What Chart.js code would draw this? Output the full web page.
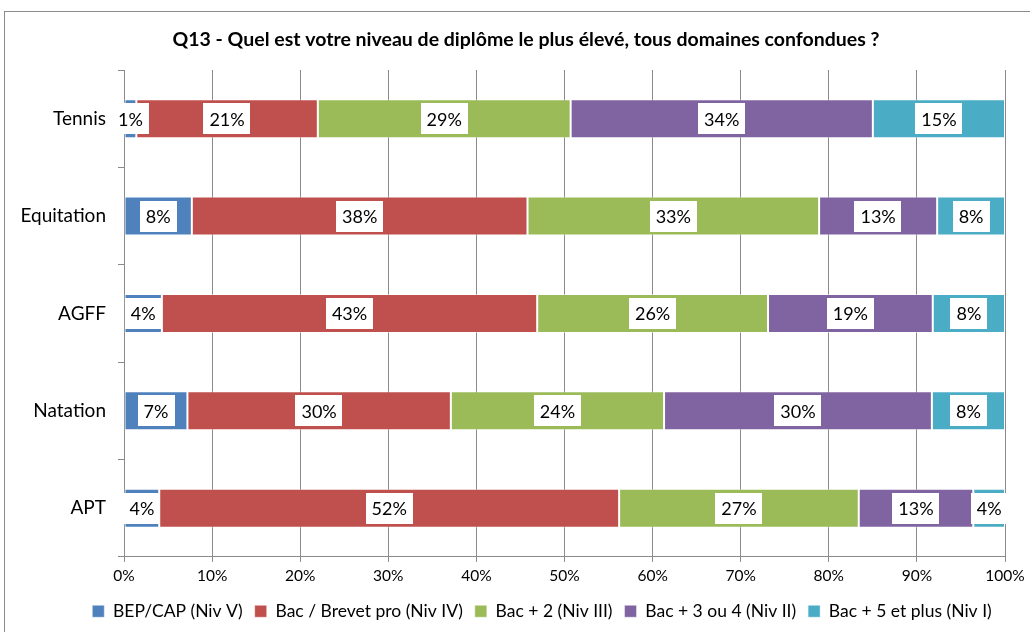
<!DOCTYPE html>
<html>
<head>
<meta charset="utf-8">
<script src="https://cdn.jsdelivr.net/npm/chart.js@4"></script>
<style>
  body { margin: 0; background: #fff; }
  #wrap { width: 1030px; height: 632px; }
</style>
</head>
<body>
<div id="wrap"><canvas id="chart"></canvas></div>
<script>
const categories = ["Tennis", "Equitation", "AGFF", "Natation", "APT"];

const seriesNames = [
    "BEP/CAP (Niv V)",
    "Bac / Brevet pro (Niv IV)",
    "Bac + 2 (Niv III)",
    "Bac + 3 ou 4 (Niv II)",
    "Bac + 5 et plus (Niv I)"
];

const bepCap = [1.4, 7.7, 4.3, 7.2, 4.0];
const bacPro = [20.6, 38.1, 42.6, 29.9, 52.2];
const bac2 = [28.7, 33.1, 26.2, 24.2, 27.2];
const bac34 = [34.3, 13.4, 18.7, 30.4, 13.0];
const bac5 = [15.0, 7.7, 8.2, 8.3, 3.6];

const seriesColors = ["#4F81BD", "#C0504D", "#9BBB59", "#8064A2", "#4BACC6"];

const xTicks = [0, 10, 20, 30, 40, 50, 60, 70, 80, 90, 100];

const chartTitle = "Q13 - Quel est votre niveau de diplôme le plus élevé, tous domaines confondues ?";

const FONT = "Lato, 'Open Sans', sans-serif";

// white boxes with the rounded % in the middle of each segment
const segmentLabels = {
    id: "segmentLabels",
    afterDatasetsDraw(chart) {
        const ctx = chart.ctx;
        ctx.save();
        ctx.font = "18px " + FONT;
        ctx.textAlign = "center";
        ctx.textBaseline = "middle";
        chart.data.datasets.forEach((ds, di) => {
            const meta = chart.getDatasetMeta(di);
            meta.data.forEach((bar, i) => {
                let txt = Math.round(ds.data[i]) + "%";
                let cx = (bar.x + bar.base) / 2;
                let w = ctx.measureText(txt).width + 12;
                let h = 31;
                ctx.fillStyle = "#ffffff";
                ctx.fillRect(Math.round(cx - w / 2), Math.round(bar.y - h / 2), Math.round(w), h);
                ctx.fillStyle = "#000000";
                ctx.fillText(txt, cx, bar.y + 1);
            });
        });
        ctx.restore();
    }
};

// outer frame + title; legend nudged right like in the original
const frameAndTitle = {
    id: "frameAndTitle",
    afterLayout(chart) {
        chart.legend.left = 79;
    },
    beforeDraw(chart) {
        const ctx = chart.ctx;
        ctx.save();
        ctx.strokeStyle = "#8c8c8c";
        ctx.lineWidth = 1;
        ctx.strokeRect(4.5, 11.5, 1200, 800);
        ctx.font = "bold 19.5px " + FONT;
        ctx.fillStyle = "#000";
        ctx.textAlign = "center";
        ctx.textBaseline = "middle";
        ctx.fillText(chartTitle, 526, 40);
        ctx.restore();
    }
};

const allSeries = [bepCap, bacPro, bac2, bac34, bac5];

const datasets = allSeries.map((vals, i) => ({
    label: seriesNames[i],
    data: vals,
    backgroundColor: seriesColors[i],
    borderColor: "rgba(255,255,255,0.45)",
    borderWidth: 1,
    borderSkipped: false,
    barPercentage: 0.4,
    categoryPercentage: 1.0
}));

Chart.defaults.font.family = FONT;
Chart.defaults.color = "#000";

new Chart(document.getElementById("chart"), {
    type: "bar",
    data: { labels: categories, datasets: datasets },
    options: {
        indexAxis: "y",
        responsive: true,
        maintainAspectRatio: false,
        animation: false,
        layout: { padding: { left: 0, right: 25, top: 70, bottom: 2 } },
        scales: {
            x: {
                stacked: true,
                min: 0,
                max: 100,
                afterBuildTicks: (axis) => { axis.ticks = xTicks.map(v => ({ value: v })); },
                ticks: {
                    callback: (v) => v + "%",
                    font: { size: 15.5 },
                    padding: 5
                },
                grid: { color: "#8a8a8a", tickLength: 5, drawTicks: true },
                border: { color: "#8a8a8a" }
            },
            y: {
                stacked: true,
                afterFit: (axis) => { axis.width = 124; },
                ticks: { font: { size: 19 }, padding: 12 },
                grid: { offset: true, drawOnChartArea: false, tickLength: 6, color: "#8a8a8a" },
                border: { color: "#8a8a8a" }
            }
        },
        plugins: {
            title: { display: false },
            legend: {
                position: "bottom",
                labels: {
                    boxWidth: 12,
                    boxHeight: 12,
                    font: { size: 17.5 },
                    padding: 12,
                    color: "#000"
                }
            },
            tooltip: { enabled: false }
        }
    },
    plugins: [frameAndTitle, segmentLabels]
});
</script>
</body>
</html>
